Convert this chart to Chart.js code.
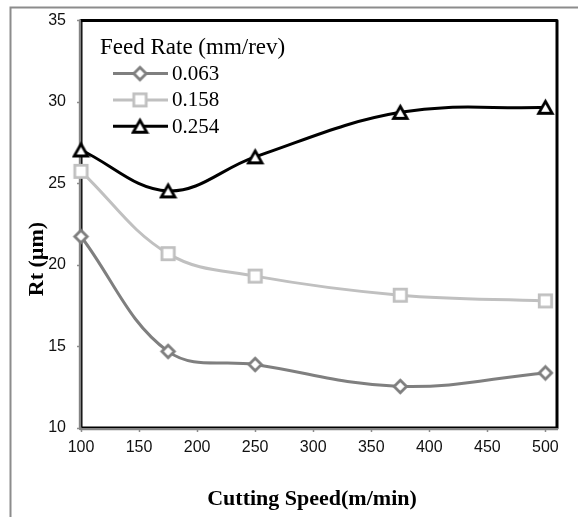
<!DOCTYPE html>
<html>
<head>
<meta charset="utf-8">
<script src="https://cdn.jsdelivr.net/npm/chart.js@4/dist/chart.umd.min.js"></script>
<style>
  html, body { margin: 0; padding: 0; background: #fff; }
  #wrap { width: 578px; height: 517px; position: relative; }
</style>
</head>
<body>
<div id="wrap"><canvas id="chart" width="578" height="517"></canvas></div>
<script>
// Surface roughness Rt versus cutting speed, one curve per feed rate
const cuttingSpeeds = [100, 175, 250, 375, 500];
const feedRates = ['0.063', '0.158', '0.254'];
const rtFeed063 = [21.75, 14.7, 13.9, 12.55, 13.38];
const rtFeed158 = [25.75, 20.7, 19.32, 18.15, 17.8];
const rtFeed254 = [27.06, 24.55, 26.64, 29.37, 29.68];
const xTickValues = [100, 150, 200, 250, 300, 350, 400, 450, 500];
const yTickValues = [10, 15, 20, 25, 30, 35];

const xTitle = 'Cutting Speed(m/min)';
const yTitle = 'Rt (\u00b5m)';
const legendTitle = 'Feed Rate (mm/rev)';

const SERIF = '"Liberation Serif", "Times New Roman", serif';
const SANS = '"Liberation Sans", Arial, sans-serif';

// Hollow marker images (white fill, coloured outline), centred on their bounding box
function makeMarker(shape, color) {
  const c = document.createElement('canvas');
  c.width = 19; c.height = 19;
  const g = c.getContext('2d');
  const m = 9.5;
  g.lineWidth = 2.8;
  g.strokeStyle = color;
  g.fillStyle = '#fff';
  g.lineJoin = 'miter';
  g.beginPath();
  if (shape === 'diamond') {
    const r = 6.2;
    g.moveTo(m, m - r); g.lineTo(m + r, m); g.lineTo(m, m + r); g.lineTo(m - r, m);
  } else if (shape === 'square') {
    const h = 6.2;
    g.rect(m - h, m - h, 2 * h, 2 * h);
  } else {
    const hw = 6.8, hh = 6.0;
    g.moveTo(m, m - hh); g.lineTo(m + hw, m + hh); g.lineTo(m - hw, m + hh);
  }
  g.closePath();
  g.fill();
  g.stroke();
  return c;
}

const seriesColors = ['#7f7f7f', '#c0c0c0', '#000000'];
const seriesShapes = ['diamond', 'square', 'triangle'];
const seriesValues = [rtFeed063, rtFeed158, rtFeed254];

const datasets = feedRates.map((label, i) => ({
  label: label,
  data: cuttingSpeeds.map((x, j) => ({ x: x, y: seriesValues[i][j] })),
  borderColor: seriesColors[i],
  backgroundColor: '#fff',
  borderWidth: 3,
  tension: 0.38,
  pointStyle: makeMarker(seriesShapes[i], seriesColors[i]),
  pointRadius: 7,
  pointHoverRadius: 7,
  fill: false,
  clip: false
}));

// Outer frame of the figure and the plot-area box
const framePlugin = {
  id: 'frame',
  beforeDraw(chart) {
    const ctx = chart.ctx;
    ctx.save();
    ctx.strokeStyle = '#8c8c8c';
    ctx.lineWidth = 2;
    ctx.beginPath();
    ctx.moveTo(10.5, chart.height);
    ctx.lineTo(10.5, 7.5);
    ctx.lineTo(chart.width, 7.5);
    ctx.stroke();
    ctx.restore();
  },
  beforeDatasetsDraw(chart) {
    const { left, right, top, bottom } = chart.chartArea;
    const ctx = chart.ctx;
    ctx.save();
    ctx.lineJoin = 'round';
    ctx.lineCap = 'round';
    // heavy black top and right edges
    ctx.strokeStyle = '#000';
    ctx.lineWidth = 3;
    ctx.beginPath();
    ctx.moveTo(left, top);
    ctx.lineTo(right, top);
    ctx.lineTo(right, bottom);
    ctx.stroke();
    // thin black inner edge on left and bottom
    ctx.lineWidth = 1.4;
    ctx.beginPath();
    ctx.moveTo(left + 0.8, top);
    ctx.lineTo(left + 0.8, bottom - 0.8);
    ctx.lineTo(right, bottom - 0.8);
    ctx.stroke();
    // grey axis lines
    ctx.strokeStyle = '#848484';
    ctx.lineWidth = 2.2;
    ctx.lineCap = 'butt';
    ctx.beginPath();
    ctx.moveTo(left - 1.1, top - 1);
    ctx.lineTo(left - 1.1, bottom + 1.1);
    ctx.lineTo(right + 1, bottom + 1.1);
    ctx.stroke();
    ctx.restore();
  }
};

// Axis titles and the in-plot legend
const labelsPlugin = {
  id: 'labels',
  afterDatasetsDraw(chart) {
    const ctx = chart.ctx;
    const area = chart.chartArea;
    ctx.save();
    ctx.fillStyle = '#000';

    // x-axis title
    ctx.font = 'bold 22px ' + SERIF;
    ctx.textAlign = 'center';
    ctx.textBaseline = 'alphabetic';
    ctx.fillText(xTitle, 312, 505);

    // y-axis title, rotated
    ctx.save();
    ctx.translate(43, 259);
    ctx.rotate(-Math.PI / 2);
    ctx.fillText(yTitle, 0, 0);
    ctx.restore();

    // legend
    const lx = area.left + 19;
    ctx.textAlign = 'left';
    ctx.font = '23px ' + SERIF;
    ctx.fillText(legendTitle, lx, area.top + 33);
    ctx.font = '21px ' + SERIF;
    chart.data.datasets.forEach((ds, i) => {
      const y = area.top + 53 + i * 26.3;
      ctx.strokeStyle = ds.borderColor;
      ctx.lineWidth = ds.borderWidth;
      ctx.beginPath();
      ctx.moveTo(lx + 13, y);
      ctx.lineTo(lx + 68, y);
      ctx.stroke();
      const img = ds.pointStyle;
      ctx.drawImage(img, lx + 40 - img.width / 2, y - img.height / 2);
      ctx.fillStyle = '#000';
      ctx.fillText(ds.label, lx + 72, y + 6.5);
    });
    ctx.restore();
  }
};

new Chart(document.getElementById('chart'), {
  type: 'line',
  data: { datasets: datasets },
  options: {
    responsive: false,
    animation: false,
    layout: { padding: { top: 17, right: 21, left: 0, bottom: 0 } },
    plugins: {
      legend: { display: false },
      tooltip: { enabled: false }
    },
    scales: {
      x: {
        type: 'linear',
        min: 100,
        max: 510,
        afterFit(s) { s.height = 89; },
        afterBuildTicks(s) { s.ticks = xTickValues.map(v => ({ value: v })); },
        grid: { drawOnChartArea: false, drawTicks: true, tickLength: 4, tickColor: '#8c8c8c', tickWidth: 1.5 },
        border: { display: false },
        ticks: { color: '#111', font: { family: SANS, size: 16 }, padding: 6, maxRotation: 0, autoSkip: false },
        title: { display: false }
      },
      y: {
        type: 'linear',
        min: 10,
        max: 35,
        afterFit(s) { s.width = 81; },
        afterBuildTicks(s) { s.ticks = yTickValues.map(v => ({ value: v })); },
        grid: { drawOnChartArea: false, drawTicks: true, tickLength: 4, tickColor: '#8c8c8c', tickWidth: 1.5 },
        border: { display: false },
        ticks: { color: '#111', font: { family: SANS, size: 16 }, padding: 11, autoSkip: false },
        title: { display: false }
      }
    }
  },
  plugins: [framePlugin, labelsPlugin]
});
</script>
</body>
</html>
